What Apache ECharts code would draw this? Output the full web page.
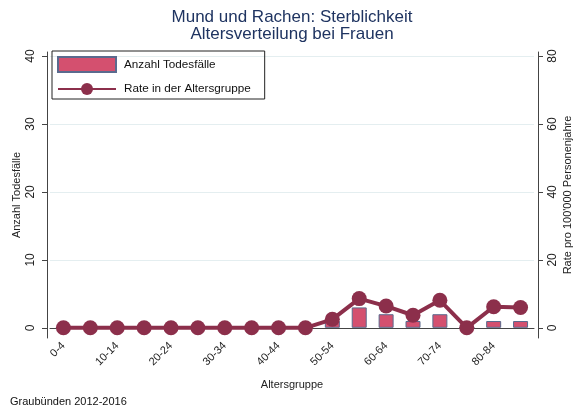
<!DOCTYPE html>
<html>
<head>
    <meta charset="UTF-8">
    <title>Mund und Rachen</title>
    <script src="https://cdn.jsdelivr.net/npm/echarts@6/dist/echarts.min.js"></script>
    <style>
        body { margin: 0; background: #fff; }
        #chart { width: 578px; height: 411px; }
    </style>
</head>
<body>
    <div id="chart"></div>
    <script>
        const ageGroups = ['0-4', '5-9', '10-14', '15-19', '20-24', '25-29', '30-34', '35-39', '40-44',
            '45-49', '50-54', '55-59', '60-64', '65-69', '70-74', '75-79', '80-84', '85+'];
        const deaths = [0, 0, 0, 0, 0, 0, 0, 0, 0, 0, 1, 3, 2, 1, 2, 0, 1, 1];
        const rates = [0, 0, 0, 0, 0, 0, 0, 0, 0, 0, 2.5, 8.6, 6.4, 3.7, 8.1, 0, 6.2, 6.0];
        const leftTicks = [0, 10, 20, 30, 40];
        const rightTicks = [0, 20, 40, 60, 80];

        const font = 'Liberation Sans, Arial, sans-serif';
        const chart = echarts.init(document.getElementById('chart'));

        chart.setOption({
            animation: false,
            textStyle: { fontFamily: font },
            graphic: [{
                type: 'text',
                x: 292,
                y: 9,
                style: {
                    text: 'Mund und Rachen: Sterblichkeit\nAltersverteilung bei Frauen',
                    align: 'center',
                    fill: '#1f3461',
                    font: '17px ' + font,
                    lineHeight: 17
                }
            }, {
                type: 'text',
                left: 10,
                top: 396,
                style: { text: 'Graubünden 2012-2016', fill: '#111', font: '11px ' + font }
            }],
            legend: {
                orient: 'vertical',
                left: 52,
                top: 51,
                padding: [5, 14, 4, 5],
                itemGap: 10,
                itemWidth: 58,
                itemHeight: 15,
                borderColor: '#222',
                borderWidth: 1,
                textStyle: { fontSize: 11.7, color: '#111', fontFamily: font, padding: [0, 0, 0, 3] },
                data: [
                    { name: 'Anzahl Todesfälle', icon: 'rect' },
                    { name: 'Rate in der Altersgruppe' }
                ]
            },
            grid: { left: 50, right: 44, top: 52, bottom: 73, outerBoundsMode: 'none' },
            xAxis: {
                type: 'category',
                data: ageGroups,
                name: 'Altersgruppe',
                nameLocation: 'middle',
                nameGap: 41,
                nameTextStyle: { fontSize: 11, color: '#222' },
                axisLine: { lineStyle: { color: '#444' } },
                axisTick: { alignWithLabel: true, interval: 1, length: 5, lineStyle: { color: '#444' } },
                axisLabel: { interval: 1, rotate: 45, fontSize: 11, color: '#222', margin: 6 }
            },
            yAxis: [{
                type: 'value',
                min: -1.5,
                max: 40.6,
                offset: 3,
                name: 'Anzahl Todesfälle',
                nameLocation: 'middle',
                nameRotate: 90,
                nameGap: 25,
                nameMoveOverlap: false,
                nameTextStyle: { fontSize: 11, color: '#222' },
                axisLine: { show: true, lineStyle: { color: '#444' } },
                axisTick: { show: true, length: 5, customValues: leftTicks, lineStyle: { color: '#444' } },
                axisLabel: { rotate: 90, fontSize: 12, color: '#222', margin: 10, customValues: leftTicks },
                splitLine: { show: true, lineStyle: { color: '#e4eef0', width: 1 } }
            }, {
                type: 'value',
                min: -3,
                max: 81.2,
                offset: 4,
                position: 'right',
                name: "Rate pro 100'000 Personenjahre",
                nameLocation: 'middle',
                nameRotate: 90,
                nameGap: 24,
                nameMoveOverlap: false,
                nameTextStyle: { fontSize: 11, color: '#222' },
                axisLine: { show: true, lineStyle: { color: '#444' } },
                axisTick: { show: true, length: 5, customValues: rightTicks, lineStyle: { color: '#444' } },
                axisLabel: { rotate: 90, fontSize: 12, color: '#222', margin: 9, customValues: rightTicks },
                splitLine: { show: false }
            }],
            series: [{
                name: 'Anzahl Todesfälle',
                type: 'bar',
                yAxisIndex: 0,
                data: deaths,
                barWidth: 15,
                itemStyle: { color: '#d4506f', borderColor: '#5a6a8e', borderWidth: 1 }
            }, {
                name: 'Rate in der Altersgruppe',
                type: 'line',
                yAxisIndex: 1,
                data: rates,
                symbol: 'circle',
                symbolSize: 15,
                lineStyle: { color: '#8c2f4b', width: 4 },
                itemStyle: { color: '#8c2f4b' }
            }]
        });
    </script>
</body>
</html>
